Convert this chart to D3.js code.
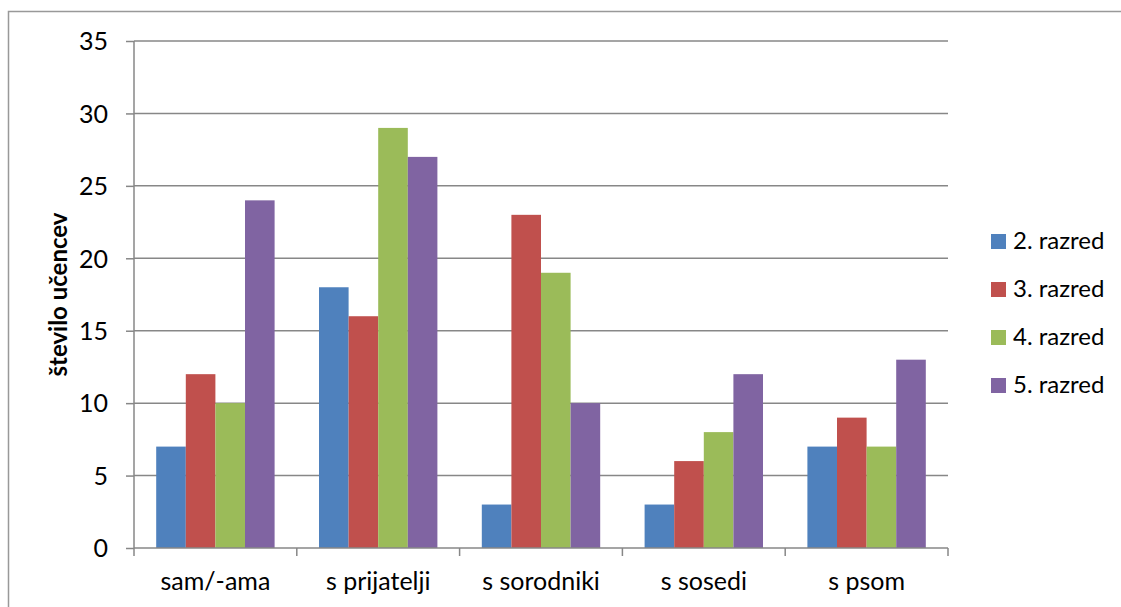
<!DOCTYPE html>
<html><head><meta charset="utf-8">
<script src="https://cdn.jsdelivr.net/npm/d3@7"></script>
<style>body{margin:0;background:#fff}svg{display:block}text{font-family:Lato,"Open Sans",sans-serif}</style>
</head><body>
<svg id="c" width="1121" height="607"></svg>
<script>
const categories = ["sam/-ama","s prijatelji","s sorodniki","s sosedi","s psom"];
const seriesNames = ["2. razred","3. razred","4. razred","5. razred"];
const razred2 = [7,18,3,3,7];
const razred3 = [12,16,23,6,9];
const razred4 = [10,29,19,8,7];
const razred5 = [24,27,10,12,13];
const seriesValues = [razred2,razred3,razred4,razred5];
const colors = ["#4F81BD","#C0504D","#9BBB59","#8064A2"];
const yTicks = [0,5,10,15,20,25,30,35];

const svg = d3.select("#c");
svg.append("rect").attr("x",8.5).attr("y",11.5).attr("width",1130).attr("height",620)
  .attr("fill","none").attr("stroke","#999").attr("stroke-width",1.5);

const L=134, R=948, T=41, B=548;
const band = (R-L)/categories.length;
const bw = band/5.5;
const y = d3.scaleLinear().domain([0,35]).range([B,T]);
const xc = d3.scaleBand().domain(categories).range([L,R]);
const xs = d3.scaleBand().domain(seriesNames).range([0,4*bw]);

// gridlines
svg.append("g").selectAll("line").data(yTicks.filter(d=>d>0)).join("line")
  .attr("x1",L).attr("x2",R).attr("y1",d=>y(d)).attr("y2",d=>y(d))
  .attr("stroke","#878787").attr("stroke-width",1.5);

seriesNames.forEach((s,si)=>{
  svg.append("g").selectAll("rect").data(seriesValues[si]).join("rect")
    .attr("x",(d,i)=>xc(categories[i])+0.75*bw+xs(s))
    .attr("width",xs.bandwidth())
    .attr("y",d=>y(d)).attr("height",d=>B-y(d))
    .attr("fill",colors[si]);
});

// y axis
const ya = svg.append("g").attr("transform",`translate(${L},0)`)
  .call(d3.axisLeft(y).tickValues(yTicks).tickSize(8).tickPadding(18));
ya.select(".domain").attr("stroke","#878787").attr("stroke-width",1.5).attr("d",`M0,${T}V${B}`);
ya.selectAll(".tick line").attr("stroke","#878787").attr("stroke-width",1.5);
ya.selectAll("text").attr("font-size",25).attr("fill","#000").attr("dy","0.35em");

// x axis
const xa = svg.append("g").attr("transform",`translate(0,${B})`)
  .call(d3.axisBottom(xc).tickSize(0).tickPadding(24));
xa.select(".domain").attr("stroke","#878787").attr("stroke-width",1.5).attr("d",`M${L},0H${R}`);
xa.selectAll("text").attr("font-size",25).attr("fill","#000");
svg.append("g").selectAll("line").data(d3.range(categories.length+1)).join("line")
  .attr("x1",i=>L+i*band).attr("x2",i=>L+i*band).attr("y1",B).attr("y2",B+8)
  .attr("stroke","#878787").attr("stroke-width",1.5);

// y title
svg.append("text").attr("transform",`translate(67,${(T+B)/2}) rotate(-90)`)
  .attr("text-anchor","middle").attr("font-size",24).attr("font-weight","bold").text("število učencev");

// legend
const lg = svg.append("g");
seriesNames.forEach((s,i)=>{
  const cy = 241 + i*48;
  lg.append("rect").attr("x",991).attr("y",cy-7).attr("width",15).attr("height",15).attr("fill",colors[i]);
  lg.append("text").attr("x",1013).attr("y",cy).attr("dy","0.35em").attr("font-size",24).text(s);
});
</script>
</body></html>
